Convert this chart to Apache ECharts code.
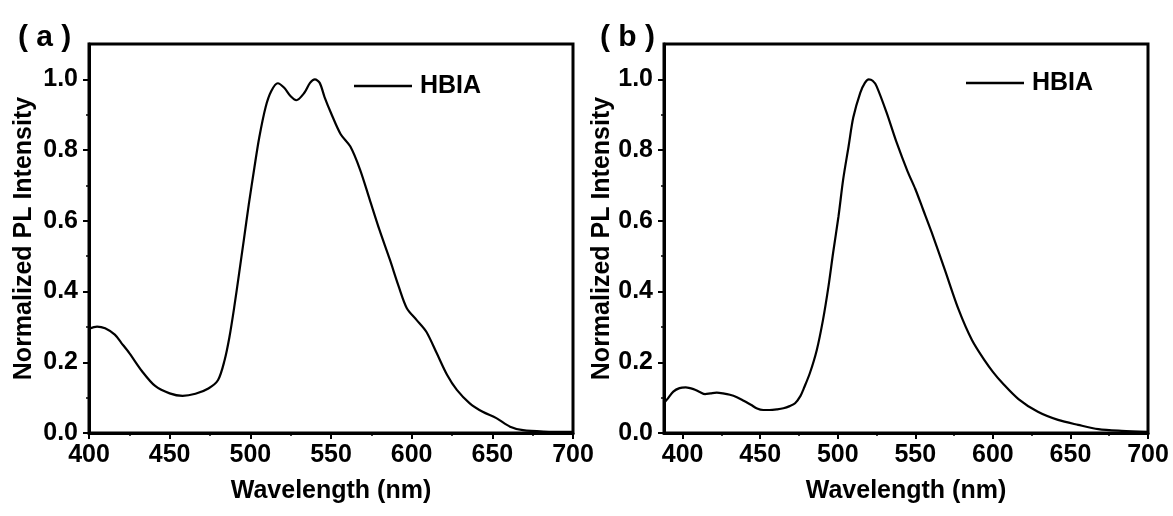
<!DOCTYPE html>
<html>
<head>
<meta charset="utf-8">
<script src="https://cdn.jsdelivr.net/npm/echarts@6/dist/echarts.min.js"></script>
<style>
html,body{margin:0;padding:0;background:#fff;}
#chart{width:1173px;height:516px;}
</style>
</head>
<body>
<div id="chart"></div>
<script>
// ---- data ----
const seriesName = 'HBIA';
const panelLabels = ['( a )', '( b )'];
const xTitle = 'Wavelength (nm)';
const yTitle = 'Normalized PL Intensity';

const waveA = [400,405,410,416,420,425,433,441,450,458,466,474,480,484,487,490,493,496,499,502.5,505.5,509.5,513,517,521,525,528.5,533.5,537,540,543,546,550,556,562,568,574,580,586.5,592,597,603,609,615.5,622,628,636,644,652.5,661,669,682,700];
const intA  = [0.295,0.301,0.296,0.278,0.255,0.226,0.174,0.133,0.112,0.105,0.111,0.126,0.150,0.205,0.270,0.355,0.450,0.547,0.645,0.750,0.835,0.922,0.967,0.989,0.976,0.952,0.941,0.962,0.990,1.000,0.990,0.950,0.905,0.845,0.810,0.745,0.660,0.575,0.490,0.414,0.353,0.320,0.287,0.226,0.164,0.122,0.084,0.060,0.042,0.018,0.008,0.004,0.003];

const waveB = [388,390,394,398,402,407,411,414.5,418,422,426,430.5,435,439,444,448,452,456,461,465,469,472.5,476,478,482,486.5,490.5,494,497,500.5,503.5,507,510,514.5,517.5,520,522.5,525,531.5,538,545,550,555,560.5,569,578,586.5,595,600,606,616.5,629,642,655,668,683,700];
const intB  = [0.085,0.095,0.117,0.127,0.129,0.124,0.116,0.110,0.112,0.114,0.112,0.108,0.101,0.092,0.080,0.069,0.065,0.065,0.067,0.070,0.076,0.084,0.105,0.125,0.169,0.235,0.320,0.414,0.509,0.613,0.717,0.811,0.892,0.962,0.990,1.000,0.996,0.981,0.906,0.821,0.740,0.690,0.632,0.568,0.462,0.348,0.263,0.203,0.173,0.142,0.096,0.060,0.037,0.023,0.011,0.006,0.003];

const xRangeA = [400, 700];
const xRangeB = [388, 700];
const yRange = [0, 1.1];
const xTicks = [400,450,500,550,600,650,700];
const xMinorTicks = [425,475,525,575,625,675];
const yTicks = [0,0.2,0.4,0.6,0.8,1.0];
const yMinorTicks = [0.1,0.3,0.5,0.7,0.9];

// ---- styling ----
const FONT = "'Liberation Sans', Arial, sans-serif";
const txt = {color:'#000', fontFamily:FONT, fontWeight:'bold', fontSize:25};

function mainX(grid, range){
  return {
    type:'value', gridIndex:grid, min:range[0], max:range[1], position:'bottom',
    axisLine:{onZero:false, lineStyle:{color:'#000', width:3}},
    axisTick:{customValues:xTicks, length:6, lineStyle:{color:'#000', width:2}},
    axisLabel:Object.assign({customValues:xTicks, margin:10, formatter:v=>String(v)}, txt),
    splitLine:{show:false},
    name:xTitle, nameLocation:'middle', nameGap:46, nameTextStyle:txt
  };
}
function minorX(grid, range){
  return {
    type:'value', gridIndex:grid, min:range[0], max:range[1], position:'bottom',
    axisLine:{show:false, onZero:false},
    axisTick:{customValues:xMinorTicks, length:3, lineStyle:{color:'#000', width:1.5}},
    axisLabel:{show:false}, splitLine:{show:false}
  };
}
function mainY(grid, gap){
  return {
    type:'value', gridIndex:grid, min:yRange[0], max:yRange[1], position:'left',
    axisLine:{show:true, onZero:false, lineStyle:{color:'#000', width:3}},
    axisTick:{show:true, customValues:yTicks, length:6, lineStyle:{color:'#000', width:2}},
    axisLabel:Object.assign({customValues:yTicks, margin:11, formatter:v=>v.toFixed(1)}, txt),
    splitLine:{show:false},
    name:yTitle, nameLocation:'middle', nameGap:gap, nameTextStyle:txt
  };
}
function minorY(grid){
  return {
    type:'value', gridIndex:grid, min:yRange[0], max:yRange[1], position:'left',
    axisLine:{show:false, onZero:false},
    axisTick:{show:true, customValues:yMinorTicks, length:3, lineStyle:{color:'#000', width:1.5}},
    axisLabel:{show:false}, splitLine:{show:false}
  };
}
function zip(xs, ys){ return xs.map((x,i)=>[x, ys[i]]); }

const chart = echarts.init(document.getElementById('chart'), null, {renderer:'canvas'});
chart.setOption({
  animation:false,
  backgroundColor:'#fff',
  title:[
    {text:panelLabels[0], left:13, top:18, textStyle:{color:'#000', fontFamily:FONT, fontWeight:'bold', fontSize:30}},
    {text:panelLabels[1], left:595, top:18, textStyle:{color:'#000', fontFamily:FONT, fontWeight:'bold', fontSize:30}}
  ],
  grid:[
    {left:89, top:44, width:484, height:389, show:true, borderColor:'#000', borderWidth:3, backgroundColor:'transparent'},
    {left:664, top:44, width:484, height:389, show:true, borderColor:'#000', borderWidth:3, backgroundColor:'transparent'}
  ],
  legend:[
    {left:354, top:73, padding:0, icon:'rect', itemWidth:58, itemHeight:2.4, itemGap:5, data:[seriesName],
     textStyle:Object.assign({lineHeight:26, padding:[0,0,0,3]}, txt)},
    {left:966, top:70, padding:0, icon:'rect', itemWidth:58, itemHeight:2.4, itemGap:5, data:[seriesName],
     textStyle:Object.assign({lineHeight:26, padding:[0,0,0,3]}, txt)}
  ],
  xAxis:[mainX(0, xRangeA), mainX(1, xRangeB), minorX(0, xRangeA), minorX(1, xRangeB)],
  yAxis:[mainY(0, 52), mainY(1, 49), minorY(0), minorY(1)],
  series:[
    {name:seriesName, type:'line', xAxisIndex:0, yAxisIndex:0, data:zip(waveA, intA),
     smooth:0.3, symbol:'none', showSymbol:false, lineStyle:{color:'#000', width:2.2}, itemStyle:{color:'#000'}},
    {name:seriesName, type:'line', xAxisIndex:1, yAxisIndex:1, data:zip(waveB, intB),
     smooth:0.3, symbol:'none', showSymbol:false, lineStyle:{color:'#000', width:2.2}, itemStyle:{color:'#000'}}
  ]
});
</script>
</body>
</html>
